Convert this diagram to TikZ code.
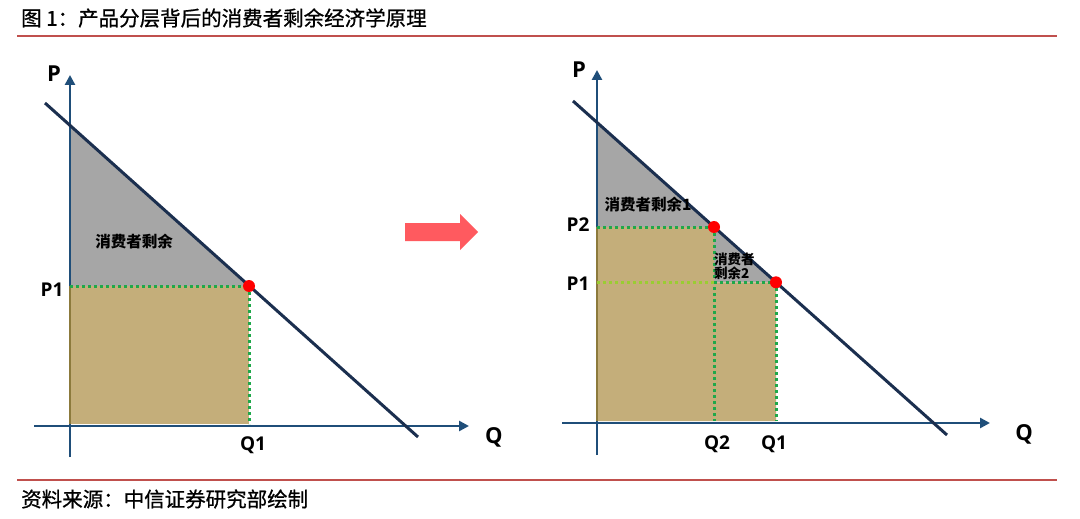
\documentclass[tikz,border=0pt]{standalone}
\usepackage{fontspec}
\setmainfont{Open Sans}
\newfontfamily\cjk{Noto Sans CJK SC}
\newfontfamily\cjkmid{Noto Sans CJK SC}[FakeBold=0.8]
\usetikzlibrary{arrows.meta}
\definecolor{axisblue}{HTML}{1F4E79}
\definecolor{demandnavy}{HTML}{1B2F4F}
\definecolor{surplusgray}{HTML}{A6A6A6}
\definecolor{revenuetan}{HTML}{C4AE7A}
\definecolor{edgeolive}{HTML}{8C7A3C}
\definecolor{dotgreen}{HTML}{1FA84A}
\definecolor{dotlime}{HTML}{9ACD32}
\definecolor{rulered}{HTML}{C0504D}
\definecolor{arrowred}{HTML}{FF5A5F}
\tikzstyle{axis} = [line width=2.8pt, draw=axisblue, -{Triangle[length=10pt,width=10pt]}]
\tikzstyle{demand} = [line width=3pt, draw=demandnavy]
\tikzstyle{guide} = [line width=3pt, draw=dotgreen, dash pattern=on 3pt off 3pt]
\tikzstyle{axislabel} = [inner sep=0pt, font=\fontsize{22}{22}\selectfont\bfseries]
\tikzstyle{ticklabel} = [inner sep=0pt, font=\fontsize{19}{19}\selectfont\bfseries]
\tikzstyle{arealabel} = [inner sep=0pt, font=\cjk\bfseries\fontsize{15.5}{15.5}\selectfont]
\tikzstyle{caption} = [inner sep=0pt, anchor=west, font=\cjkmid\fontsize{20.5}{20.5}\selectfont]
\tikzstyle{rule} = [line width=1.6pt, draw=rulered]
\tikzstyle{equilibrium} = [circle, fill=red, inner sep=0pt, minimum size=12pt]

\begin{document}
\begin{tikzpicture}[x=1pt, y=-1pt]
    \useasboundingbox[fill=white] (0,0) rectangle (1080,519);

    % title and source
    \node (title) [caption] at (21,18) {图 1：产品分层背后的消费者剩余经济学原理};
    \node (source) [caption] at (21,499) {资料来源：中信证券研究部绘制};
    \coordinate (ruleTopL) at (17,36);
    \coordinate (ruleTopR) at (1057,36);
    \coordinate (ruleBotL) at (17,480);
    \coordinate (ruleBotR) at (1057,480);
    \draw[rule] (ruleTopL) -- (ruleTopR);
    \draw[rule] (ruleBotL) -- (ruleBotR);

    % left chart: one price
    \coordinate (lPtop) at (70,75);
    \coordinate (lPbot) at (70,457);
    \coordinate (lQleft) at (34,426);
    \coordinate (lQright) at (469,426);
    \coordinate (lDa) at (45,103);
    \coordinate (lDb) at (418,437);
    \coordinate (lA) at (70,125.4);
    \coordinate (lE) at (249,286);
    \coordinate (lP1) at (70,286);
    \coordinate (lQ1) at (249,424);

    \fill[surplusgray] (lA) -- (lE) -- (lP1) -- cycle;
    \draw[axis] (lPbot) -- (lPtop);
    \draw[axis] (lQleft) -- (lQright);
    \fill[revenuetan] (lP1) rectangle (lQ1);
    \draw[line width=2.8pt, edgeolive] (lP1) -- (70,424);
    \draw[guide] (lP1) -- (lE);
    \draw[guide] (lE) -- (lQ1);
    \draw[demand] (lDa) -- (lDb);
    \node (lDot) [equilibrium] at (lE) {};

    \node (lP) [axislabel] at (54,74) {P};
    \node (lQ) [axislabel] at (494,437) {Q};
    \node (lP1lab) [ticklabel] at (52,290) {P1};
    \node (lQ1lab) [ticklabel] at (253,445) {Q1};
    \node (lCS) [arealabel] at (134,242) {消费者剩余};

    % arrow between the charts
    \fill[arrowred] (405,223) -- (460,223) -- (460,214) -- (478,232)
        -- (460,250) -- (460,241) -- (405,241) -- cycle;

    % right chart: two prices
    \coordinate (rPtop) at (597,70);
    \coordinate (rPbot) at (597,455);
    \coordinate (rQleft) at (562,423);
    \coordinate (rQright) at (990,423);
    \coordinate (rDa) at (573,101);
    \coordinate (rDb) at (947,435);
    \coordinate (rA) at (597,122.4);
    \coordinate (rE2) at (714,227);
    \coordinate (rE1) at (776,282.3);
    \coordinate (rP2) at (597,227);
    \coordinate (rP1) at (597,282.3);
    \coordinate (rK) at (714,282.3);
    \coordinate (rQ2) at (714,421);
    \coordinate (rQ1) at (776,421);

    \fill[surplusgray] (rA) -- (rE1) -- (rP1) -- cycle;
    \draw[axis] (rPbot) -- (rPtop);
    \draw[axis] (rQleft) -- (rQright);
    \fill[revenuetan] (rP2) -- (rE2) -- (rK) -- (rE1) -- (rQ1) -- (597,421) -- cycle;
    \draw[line width=2.8pt, edgeolive] (rP2) -- (597,421);
    \draw[guide] (rP2) -- (rE2);
    \draw[guide] (rE2) -- (rQ2);
    \draw[guide, draw=dotlime] (rP1) -- (rK);
    \draw[guide] (rK) -- (rE1);
    \draw[guide] (rE1) -- (rQ1);
    \draw[demand] (rDa) -- (rDb);
    \node (rDot2) [equilibrium] at (rE2) {};
    \node (rDot1) [equilibrium] at (rE1) {};

    \node (rP) [axislabel] at (579,70) {P};
    \node (rQ) [axislabel] at (1024,434) {Q};
    \node (rP2lab) [ticklabel] at (578,225) {P2};
    \node (rP1lab) [ticklabel] at (578,284) {P1};
    \node (rQ2lab) [ticklabel] at (717,444) {Q2};
    \node (rQ1lab) [ticklabel] at (774,444) {Q1};
    \node (rCS1) [arealabel] at (648,205) {消费者剩余1};
    \node (rCS2) [arealabel, font=\cjk\bfseries\fontsize{13.5}{14}\selectfont, align=left, anchor=west]
        at (714,266) {消费者\\剩余2};

\end{tikzpicture}
\end{document}
